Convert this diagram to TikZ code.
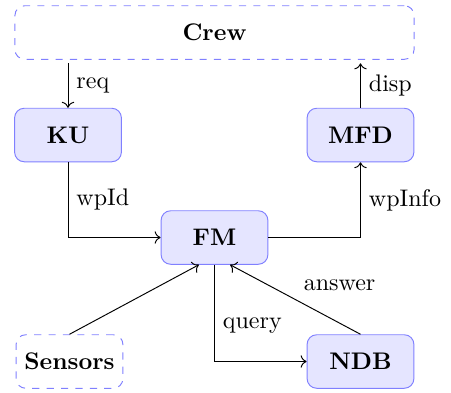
\documentclass[tikz,border=0pt]{standalone}
\usetikzlibrary{arrows.meta}
\begin{document}
\begin{tikzpicture}[x=0.416667pt,y=-0.416667pt,
  blk/.style={draw=blue!50,fill=blue!10,rounded corners=4pt,minimum width=44.5pt,minimum height=22.3pt,font=\bfseries},
  ext/.style={draw=blue!50,dashed,rounded corners=4pt,minimum width=44.5pt,minimum height=22.3pt,font=\bfseries},
  conn/.style={->}]
\useasboundingbox (0,0) rectangle (451,392);
\node[ext,minimum width=166.3pt,outer sep=1.7pt] (crew) at (214.5,32.5) {Crew};
\node[blk] (ku) at (68,135) {KU};
\node[blk] (mfd) at (360.5,135) {MFD};
\node[blk] (fm) at (214.5,237.5) {FM};
\node[ext] (sen) at (69.5,361.5) {Sensors};
\node[blk] (ndb) at (360.5,361.5) {NDB};
\draw[conn] (crew.south -| ku.north) -- node[right] {req} (ku.north);
\draw[conn] (mfd.north) -- node[right] {disp} (crew.south -| mfd.north);
\draw[conn] (ku.south) |- node[pos=0.25,right] {wpId} (fm.west);
\draw[conn] (fm.east) -| node[pos=0.75,right] {wpInfo} (mfd.south);
\draw[conn] (sen.north) -- ([xshift=-6.5pt]fm.south);
\draw[conn] (ndb.north) -- node[pos=0.5,above right] {answer} ([xshift=6.5pt]fm.south);
\draw[conn] (fm.south) |- node[pos=0.315,right] {query} (ndb.west);
\end{tikzpicture}
\end{document}
